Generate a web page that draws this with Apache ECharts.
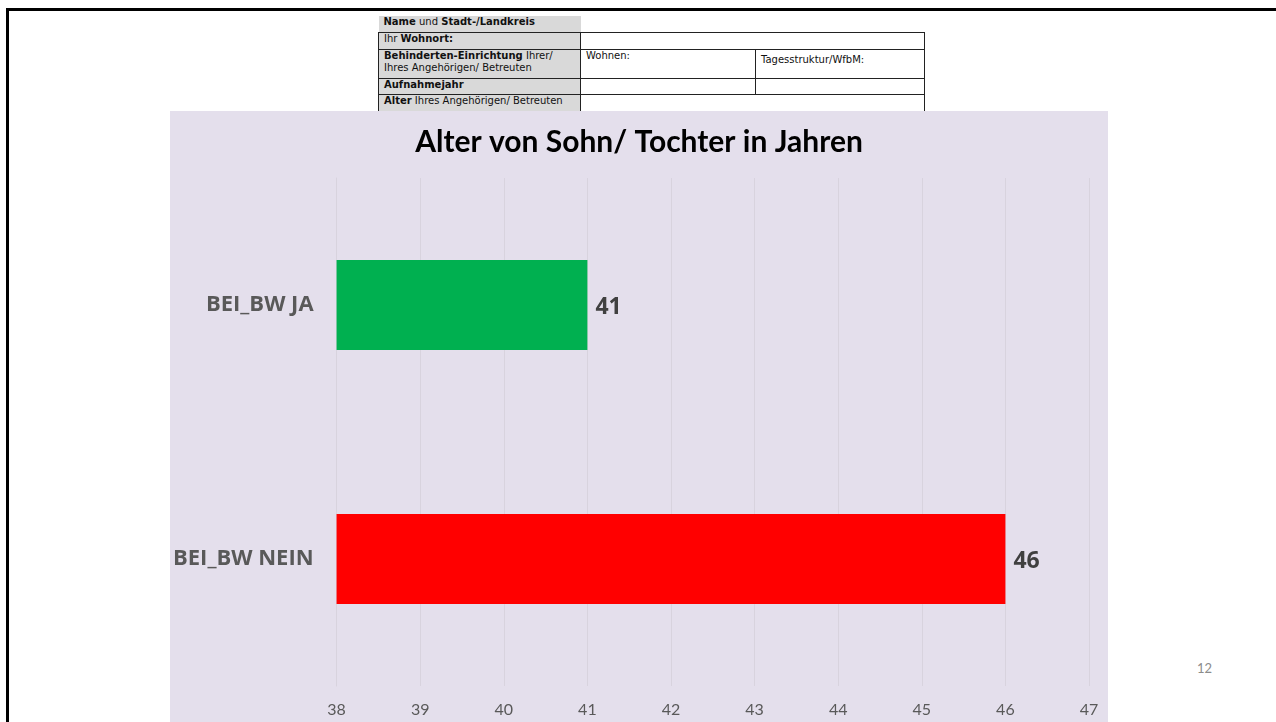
<!DOCTYPE html>
<html>
<head>
<meta charset="utf-8">
<script src="https://cdn.jsdelivr.net/npm/echarts@6/dist/echarts.min.js"></script>
<style>
  html, body { margin: 0; padding: 0; background: #fff; }
  body { width: 1276px; height: 722px; position: relative; overflow: hidden; }
  .frame-top { position: absolute; left: 6px; top: 8px; width: 1270px; height: 3px; background: #000; }
  .frame-left { position: absolute; left: 6px; top: 8px; width: 3px; height: 714px; background: #000; }
  table.form {
    position: absolute; left: 378px; top: 16px; width: 547px;
    border-collapse: collapse; font-family: "DejaVu Sans", sans-serif; font-size: 10px; color: #111;
  }
  table.form td { border: 1px solid #222; padding: 0 5px; line-height: 12px; vertical-align: top; }
  table.form td.lbl { background: #d9d9d9; width: 191px; }
  table.form td.none { border: none; }
  .page { position: absolute; left: 1197px; top: 660px; font-family: Lato, sans-serif; font-size: 13px; color: #8c8c8c; }
  #chart { position: absolute; left: 170px; top: 111px; width: 938px; height: 611px; background: #e4dfec; }
</style>
</head>
<body>
<div class="frame-top"></div>
<div class="frame-left"></div>
<table class="form">
  <tr style="height:16px"><td class="lbl" style="border:none"><b>Name</b> und <b>Stadt-/Landkreis</b></td><td class="none" colspan="2"></td></tr>
  <tr style="height:17px"><td class="lbl">Ihr <b>Wohnort:</b></td><td colspan="2"></td></tr>
  <tr style="height:29px"><td class="lbl"><b>Behinderten-Einrichtung</b> Ihrer/<br>Ihres Angehörigen/ Betreuten</td><td style="width:164px">Wohnen:</td><td style="padding-top:4px">Tagesstruktur/WfbM:</td></tr>
  <tr style="height:16px"><td class="lbl"><b>Aufnahmejahr</b></td><td></td><td></td></tr>
  <tr style="height:17px"><td class="lbl"><b>Alter</b> Ihres Angehörigen/ Betreuten</td><td colspan="2"></td></tr>
</table>
<div class="page">12</div>
<div id="chart"></div>
<script>
const categories = ['BEI_BW JA', 'BEI_BW NEIN']
const values = [41, 46]
const barColors = ['#00b050', '#ff0000']
const axisMin = 38
const axisMax = 47

const myChart = echarts.init(document.getElementById('chart'))

const option = {
  animation: false,
  title: {
    text: 'Alter von Sohn/ Tochter in Jahren',
    left: 'center',
    top: 11,
    textStyle: { fontFamily: 'Lato', fontWeight: 'bold', fontSize: 30, color: '#000' }
  },
  grid: { left: 165, right: 19, top: 67, bottom: 36, containLabel: false },
  xAxis: {
    type: 'value',
    min: axisMin,
    max: axisMax,
    interval: 1,
    axisLine: { show: false },
    axisTick: { show: false },
    axisLabel: { color: '#595959', fontFamily: 'Lato', fontSize: 16, margin: 16 },
    splitLine: { show: true, lineStyle: { color: '#d8d3de', width: 1 } }
  },
  yAxis: {
    type: 'category',
    data: categories,
    inverse: true,
    axisLine: { show: true, lineStyle: { color: '#d8d3de' } },
    axisTick: { show: false },
    axisLabel: { color: '#595959', fontFamily: 'Open Sans', fontWeight: 'bold', fontSize: 22, margin: 23 }
  },
  series: [
    {
      type: 'bar',
      barWidth: 90,
      data: values.map((v, i) => ({ value: v, itemStyle: { color: barColors[i] } })),
      label: {
        show: true,
        position: 'right',
        distance: 8,
        color: '#404040',
        fontFamily: 'Open Sans',
        fontWeight: 'bold',
        fontSize: 23,
        offset: [0, 2]
      }
    }
  ]
}
myChart.setOption(option)
</script>
</body>
</html>
